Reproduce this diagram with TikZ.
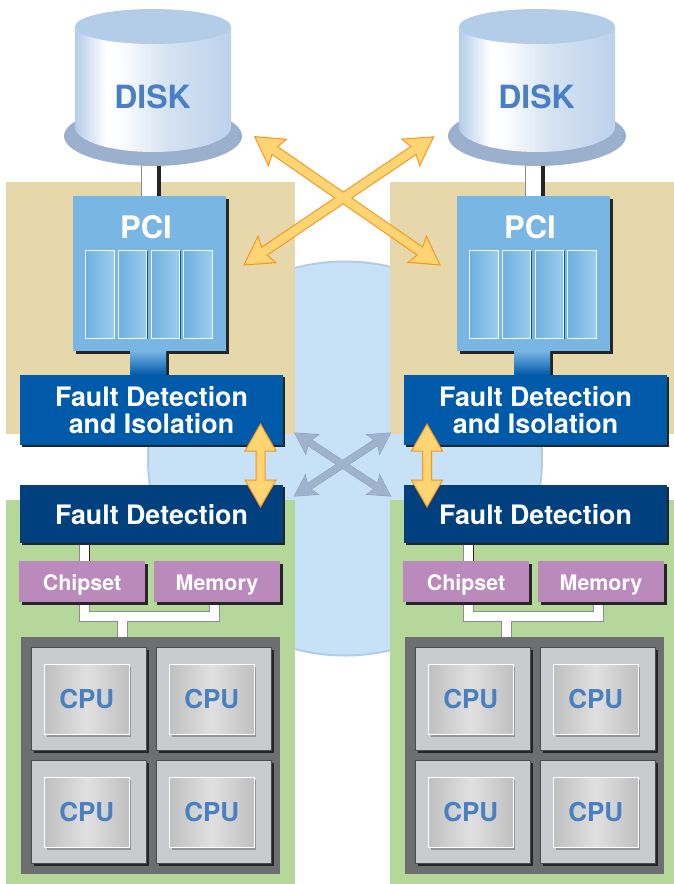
\documentclass[tikz,border=0pt]{standalone}
\usepackage{fontspec}
\setmainfont{TeX Gyre Heros}
\usetikzlibrary{calc,shadows,shapes.geometric}
\definecolor{tanbg}{HTML}{E6D8AA}
\definecolor{greenbg}{HTML}{B5D89A}
\definecolor{hubfill}{HTML}{C7E1F6}
\definecolor{hubline}{HTML}{B3CDE9}
\definecolor{diskbase}{HTML}{9BB0CC}
\definecolor{disktop}{HTML}{B3CDE9}
\definecolor{lblue}{HTML}{4A7FC1}
\definecolor{pcifill}{HTML}{79B6E4}
\definecolor{fdifill}{HTML}{005AAA}
\definecolor{fdfill}{HTML}{00407F}
\definecolor{chipfill}{HTML}{B98ABB}
\definecolor{boardfill}{HTML}{6D6E70}
\definecolor{cellfill}{HTML}{CACBCD}
\definecolor{orline}{HTML}{F7941D}
\definecolor{orfill}{HTML}{FFD573}
\definecolor{grfill}{HTML}{9FB3CF}
\definecolor{grline}{HTML}{8E9DB2}
\definecolor{diskmid}{HTML}{D5E2F2}
\definecolor{diskend}{HTML}{BCD2EC}
\definecolor{slotl}{HTML}{6FB0E0}
\definecolor{slotr}{HTML}{9CCDEF}
\pgfdeclarehorizontalshading{diskshade}{100bp}{color(0bp)=(disktop);color(25bp)=(disktop);color(35bp)=(white);color(39bp)=(white!97!disktop);color(55bp)=(diskmid);color(75bp)=(diskend);color(100bp)=(diskend)}
\pgfdeclarehorizontalshading{slotshade}{100bp}{color(0bp)=(slotl);color(25bp)=(slotl);color(75bp)=(slotr);color(100bp)=(slotr)}
\pgfdeclarehorizontalshading{cpushade}{100bp}{color(0bp)=(black!25);color(25bp)=(black!25);color(50bp)=(black!12);color(75bp)=(black!25);color(100bp)=(black!25)}
\pgfdeclarelayer{back}
\pgfdeclarelayer{conn}
\pgfdeclarelayer{front}
\pgfsetlayers{back,conn,main,front}
\tikzset{
  x=1pt,y=-1pt,
  box/.style={rectangle,inner sep=0pt,outer sep=0pt,text=white,font=\bfseries,align=center},
  shad/.style={general shadow={fill=#1,shadow xshift=3pt,shadow yshift=-3pt}},
  pcibox/.style={box,fill=pcifill,minimum width=153,minimum height=155,shad=black!85},
  linkbox/.style={box,top color=pcifill,bottom color=fdifill,minimum width=36,minimum height=24,general shadow={fill=black!85,shadow xshift=2.5pt,shadow yshift=0pt}},
  slotbox/.style={box,shading=slotshade,draw=white!90!pcifill,line width=.8pt,minimum width=28.5,minimum height=88,general shadow={fill=fdifill,shadow xshift=1.2pt,shadow yshift=-1pt}},
  fdibox/.style={box,fill=fdifill,minimum width=263,minimum height=70,general shadow={fill=black!85,shadow xshift=2pt,shadow yshift=-2pt},font=\fontsize{26.8}{27}\selectfont\bfseries},
  fdbox/.style={box,fill=fdfill,minimum width=263,minimum height=58,text height=20,text depth=0,general shadow={fill=black!85,shadow xshift=2pt,shadow yshift=-2pt},font=\fontsize{26.8}{27}\selectfont\bfseries},
  chipbox/.style={box,fill=chipfill,minimum width=126,minimum height=41,text height=18.4,text depth=0,shad=black!85,font=\fontsize{21.4}{24}\selectfont\bfseries},
  cellbox/.style={box,fill=cellfill,draw=black!70,line width=.7pt,minimum width=115,minimum height=103,shad=black!85},
  cpubox/.style={box,shading=cpushade,draw=white,line width=1pt,minimum width=84.5,minimum height=70,text=lblue,general shadow={fill=black!42,shadow xshift=2pt,shadow yshift=-2pt},font=\fontsize{26}{28}\selectfont\bfseries},
  boardbox/.style={box,fill=boardfill,minimum width=259,minimum height=237},
  area/.style={box,minimum width=289},
  orstroke/.style={draw=orline,line width=2.2pt,line join=miter},
  grstroke/.style={draw=grline,line width=1pt,line join=miter},
}
\newcommand{\ArrowPoly}[6]{% tip A, tip B, head length, half width, notch, half shaft
 (#1)
 -- ($($(#1)!#3pt!(#2)$)!#4pt!90:(#2)$)
 -- ($($(#1)!#5pt!(#2)$)!#6pt!90:(#2)$)
 -- ($($(#2)!#5pt!(#1)$)!#6pt!-90:(#1)$)
 -- ($($(#2)!#3pt!(#1)$)!#4pt!-90:(#1)$)
 -- (#2)
 -- ($($(#2)!#3pt!(#1)$)!#4pt!90:(#1)$)
 -- ($($(#2)!#5pt!(#1)$)!#6pt!90:(#1)$)
 -- ($($(#1)!#5pt!(#2)$)!#6pt!-90:(#2)$)
 -- ($($(#1)!#3pt!(#2)$)!#4pt!-90:(#2)$)
 -- cycle}
\newcommand{\CpuCell}[3]{%
 \node[cellbox] (cell#1) at (#2,#3) {};
 \node[cpubox] (cpu#1) at ($(cell#1.center)+(-1.7,1)$) {CPU};
}
\newcommand{\BusPath}[1]{(chip#1.south -| lead#1) |- (busmid#1) -| (mem#1.south -| riser#1) (busmid#1) -- (board#1.north -| busmid#1)}
\newcommand{\Unit}[1]{%
 % backdrops
 \begin{pgfonlayer}{back}
  \node[area,fill=tanbg,minimum height=252] (tan#1) at (150.5,308) {};
  \node[area,fill=greenbg,minimum height=384] (green#1) at (150.5,692) {};
 \end{pgfonlayer}
 % disk
 \node[ellipse,fill=diskbase,minimum width=178,minimum height=60,inner sep=0pt,outer sep=0pt] (base#1) at (153,136) {};
 \shade[shading=diskshade] (75,26.5) -- (75,127) arc[start angle=180,end angle=360,x radius=78,y radius=-25] -- (231,26.5) -- cycle;
 \node[ellipse,fill=disktop,minimum width=156,minimum height=35,inner sep=0pt] (top#1) at (153,26.5) {};
 \node[box,text=lblue,font=\fontsize{32}{34}\selectfont\bfseries] (disk#1) at (152.5,97) {DISK};
 % PCI
 \node[pcibox] (pci#1) at (149.5,273.5) {};
 \node[box,font=\fontsize{31}{33}\selectfont\bfseries] (pcilabel#1) at (146,227) {PCI};
 \node[slotbox] (slota#1) at (99.8,294) {};
 \node[slotbox] (slotb#1) at (132.5,294) {};
 \node[slotbox] (slotc#1) at (165.3,294) {};
 \node[slotbox] (slotd#1) at (198,294) {};
 % link from PCI to fault isolation, in front of the PCI shadow
 \node[linkbox] (pcilink#1) at (148,363) {};
 % fault boxes
 \node[fdibox] (fdi#1) at (151.5,410) {\rule{0pt}{20.5pt}Fault Detection\\and Isolation};
 \node[fdbox] (fd#1) at (151.5,514) {Fault Detection};
 % chipset, memory
 \node[chipbox] (chip#1) at (82,581.5) {Chipset};
 \node[chipbox] (mem#1) at (217,581.5) {Memory};
 % cpu board
 \node[boardbox] (board#1) at (150.5,755.5) {};
 \CpuCell{a#1}{88.5}{698.5}
 \CpuCell{b#1}{213.5}{698.5}
 \CpuCell{c#1}{88.5}{811.5}
 \CpuCell{d#1}{213.5}{811.5}
 % connectors
 \coordinate (lead#1) at (84.5,600);
 \coordinate (riser#1) at (214.5,600);
 \coordinate (busmid#1) at (122.5,616.5);
 \begin{pgfonlayer}{conn}
  \draw[draw=black!45,line width=20pt] ($(base#1.south)+(-2,0)$) -- ($(pci#1.north)+(1.5,0)$);
  \draw[draw=black!85,line width=4pt] ($(base#1.south)+(6,0)$) -- ($(pci#1.north)+(9.5,0)$);
  \draw[draw=white,line width=15pt] ($(base#1.south)+(-3.5,0)$) -- (pci#1.north);
  \draw[draw=black!45,line width=11pt] (fd#1.south -| lead#1) -- (chip#1.north -| lead#1);
  \draw[draw=black!85,line width=2pt] ([xshift=4.5pt]fd#1.south -| lead#1) -- ([xshift=4.5pt]chip#1.north -| lead#1);
  \draw[draw=white,line width=8.6pt] ([xshift=-.1pt]fd#1.south -| lead#1) -- ([xshift=-.1pt]chip#1.north -| lead#1);
  \draw[draw=black!85,line width=10pt,shift={(1,1)}] \BusPath{#1};
  \draw[draw=black!45,line width=11pt] \BusPath{#1};
  \draw[draw=white,line width=9.6pt,shift={(-.1,-.1)}] \BusPath{#1};
 \end{pgfonlayer}
}
\begin{document}
\begin{tikzpicture}
\useasboundingbox (0,0) rectangle (674,884);
\clip (0,0) rectangle (674,884);
\begin{pgfonlayer}{back}
 \fill[white] (0,0) rectangle (674,884);
 \node[circle,fill=hubfill,draw=hubline,line width=2pt,minimum size=394,inner sep=0pt] (hub) at (345,458.5) {};
\end{pgfonlayer}
\begin{scope}
 \Unit{L}
\end{scope}
\begin{scope}[xshift=384pt]
 \Unit{R}
\end{scope}
\begin{pgfonlayer}{front}
 % orange cross
 \coordinate (oa) at (255.7,137.3);
 \coordinate (ob) at (439,264.3);
 \coordinate (oc) at (432.7,137.5);
 \coordinate (od) at (245,264.3);
 \path[orstroke] \ArrowPoly{oa}{ob}{25.5}{14.7}{22.5}{4.2};
 \path[orstroke] \ArrowPoly{oc}{od}{25.5}{14.7}{22.5}{4.2};
 \fill[orfill] \ArrowPoly{oa}{ob}{25.5}{14.7}{22.5}{4.2};
 \fill[orfill] \ArrowPoly{oc}{od}{25.5}{14.7}{22.5}{4.2};
 % grey cross
 \coordinate (ga) at (295,433);
 \coordinate (gb) at (390.5,496);
 \coordinate (gc) at (390.5,433);
 \coordinate (gd) at (294.5,496);
 \path[grstroke] \ArrowPoly{ga}{gb}{20.5}{11.5}{17.5}{3.3};
 \path[grstroke] \ArrowPoly{gc}{gd}{20.5}{11.5}{17.5}{3.3};
 \fill[grfill] \ArrowPoly{ga}{gb}{20.5}{11.5}{17.5}{3.3};
 \fill[grfill] \ArrowPoly{gc}{gd}{20.5}{11.5}{17.5}{3.3};
 % vertical links between the fault boxes
 \coordinate (va) at (260.5,424);
 \coordinate (vb) at (260.5,507);
 \coordinate (vc) at (427,424);
 \coordinate (vd) at (427,507);
 \path[draw=orline,line width=1pt,fill=orfill] \ArrowPoly{va}{vb}{27}{15.5}{27}{4.5};
 \path[draw=orline,line width=1pt,fill=orfill] \ArrowPoly{vc}{vd}{27}{15.5}{27}{4.5};
\end{pgfonlayer}
\end{tikzpicture}
\end{document}
